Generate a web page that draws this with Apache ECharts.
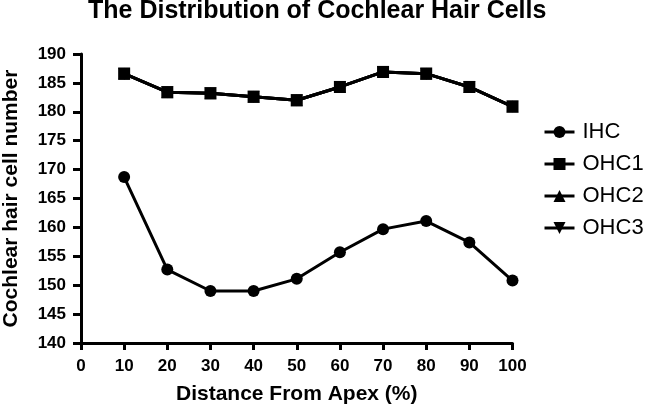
<!DOCTYPE html>
<html>
<head>
<meta charset="utf-8">
<script src="https://cdn.jsdelivr.net/npm/echarts@6/dist/echarts.min.js"></script>
<style>html,body{margin:0;padding:0;background:#fff}#c{width:646px;height:409px}</style>
</head>
<body>
<div id="c"></div>
<script>
const distances = [10, 20, 30, 40, 50, 60, 70, 80, 90, 100];
const IHC  = [168.7, 152.7, 149.0, 149.0, 151.1, 155.7, 159.7, 161.1, 157.4, 150.8];
const OHC1 = [186.6, 183.4, 183.2, 182.6, 182.0, 184.3, 186.9, 186.6, 184.3, 180.9];
const OHC2 = [186.6, 183.4, 183.2, 182.6, 182.0, 184.3, 186.9, 186.6, 184.3, 180.9];
const OHC3 = [186.6, 183.4, 183.2, 182.6, 182.0, 184.3, 186.9, 186.6, 184.3, 180.9];
const seriesNames = ['IHC', 'OHC1', 'OHC2', 'OHC3'];

const FONT = 'Liberation Sans';
const pair = arr => distances.map((d, i) => [d, arr[i]]);
function mk(name, data, symbol, extra) {
  return Object.assign({
    name, type: 'line', data: pair(data), symbol, symbolSize: 12,
    lineStyle: { color: '#000', width: 3 },
    itemStyle: { color: '#000' },
    emphasis: { disabled: true },
    animation: false
  }, extra || {});
}
const chart = echarts.init(document.getElementById('c'), null, { renderer: 'canvas' });
chart.setOption({
  animation: false,
  backgroundColor: '#fff',
  title: {
    text: 'The Distribution of Cochlear Hair Cells',
    left: 88, top: -1, padding: 0,
    textStyle: { fontFamily: FONT, fontWeight: 'bold', fontSize: 25, color: '#000' }
  },
  legend: {
    data: seriesNames,
    orient: 'vertical', left: 543, top: 121, padding: 0,
    itemWidth: 30, itemHeight: 15, itemGap: 10,
    lineStyle: { width: 3, color: '#000' },
    textStyle: { fontFamily: FONT, fontSize: 22, color: '#000', padding: [0, 0, 0, 3] }
  },
  grid: { left: 81, right: 133.5, top: 54, bottom: 66, outerBoundsMode: 'none', containLabel: false },
  xAxis: {
    type: 'value', min: 0, max: 100, interval: 10,
    name: 'Distance From Apex (%)', nameLocation: 'middle', nameGap: 41,
    nameTextStyle: { fontFamily: FONT, fontWeight: 'bold', fontSize: 21, color: '#000' },
    axisLine: { lineStyle: { color: '#000', width: 3 } },
    axisTick: { length: 7, lineStyle: { color: '#000', width: 3 } },
    axisLabel: { margin: 15, fontFamily: FONT, fontWeight: 'bold', fontSize: 17, color: '#000' },
    splitLine: { show: false }
  },
  yAxis: {
    type: 'value', min: 140, max: 190, interval: 5,
    name: 'Cochlear hair cell number', nameLocation: 'middle', nameGap: 59,
    nameTextStyle: { fontFamily: FONT, fontWeight: 'bold', fontSize: 21, color: '#000' },
    axisLine: { show: true, lineStyle: { color: '#000', width: 3 } },
    axisTick: { show: true, length: 8, lineStyle: { color: '#000', width: 3 } },
    axisLabel: { margin: 15, fontFamily: FONT, fontWeight: 'bold', fontSize: 17, color: '#000' },
    splitLine: { show: false }
  },
  series: [
    mk('IHC', IHC, 'circle'),
    mk('OHC1', OHC1, 'rect', { z: 5 }),
    mk('OHC2', OHC2, 'triangle', { z: 4 }),
    mk('OHC3', OHC3, 'triangle', { z: 3, symbolRotate: 180 })
  ]
});
</script>
</body>
</html>
